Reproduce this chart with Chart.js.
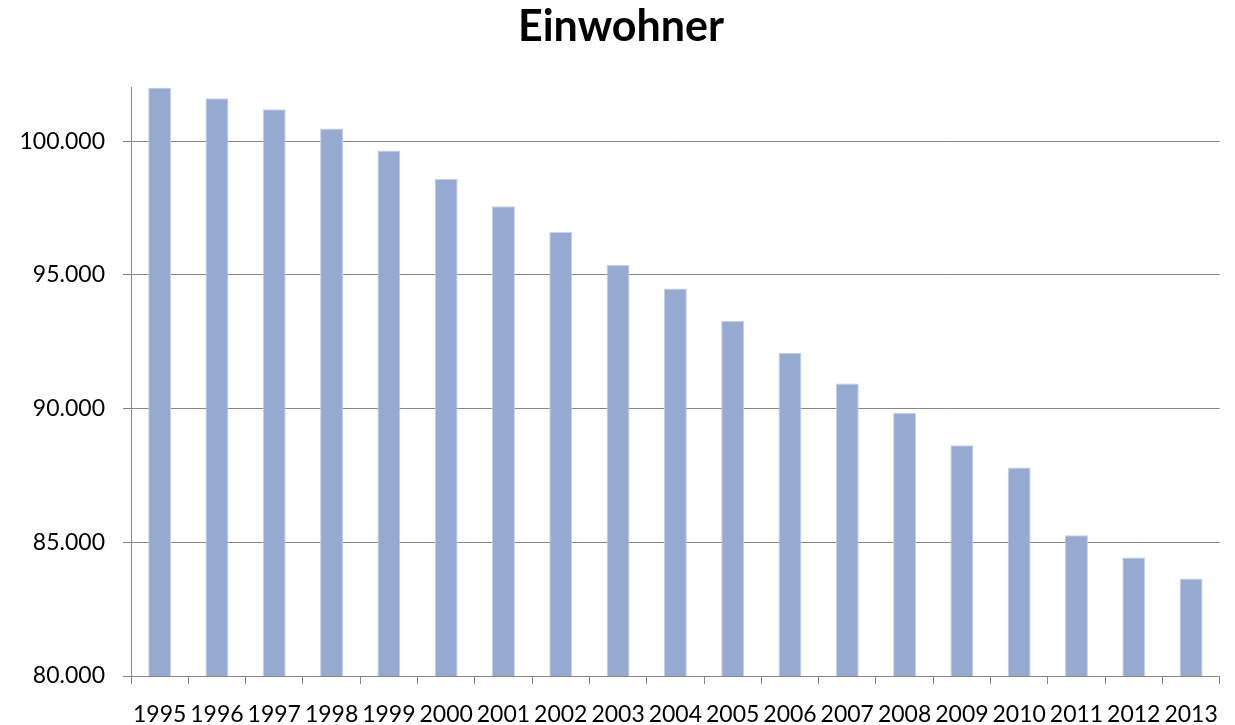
<!DOCTYPE html>
<html>
<head>
<meta charset="utf-8">
<script src="https://cdn.jsdelivr.net/npm/chart.js@4/dist/chart.umd.min.js"></script>
<style>
  html, body { margin: 0; padding: 0; background: #fff; }
  #wrap { width: 1235px; height: 725px; }
</style>
</head>
<body>
<div id="wrap"><canvas id="chart" width="1235" height="725"></canvas></div>
<script>
const years = [
  '1995', '1996', '1997', '1998', '1999', '2000', '2001', '2002', '2003', '2004',
  '2005', '2006', '2007', '2008', '2009', '2010', '2011', '2012', '2013',
];
const einwohner = [
  102000, 101600, 101190, 100475, 99650, 98580, 97560, 96600, 95365, 94490,
  93270, 92090, 90940, 89840, 88630, 87795, 85262, 84430, 83645,
];
const yTicks = [80000, 85000, 90000, 95000, 100000];
const yMin = 80000;
const yMax = 102000;

Chart.defaults.color = '#000';
Chart.defaults.font.family = 'Lato, "Open Sans", sans-serif';

// German style thousands separator: 100000 -> "100.000"
const fmt = (v) => String(Math.round(v)).replace(/\B(?=(\d{3})+(?!\d))/g, '.');

new Chart(document.getElementById('chart'), {
  type: 'bar',
  data: {
    labels: years,
    datasets: [
      {
        data: einwohner,
        backgroundColor: 'rgb(149, 169, 209)',
        borderColor: 'rgb(196, 208, 232)',
        borderWidth: 1,
        barPercentage: 0.4,
        categoryPercentage: 1,
      },
    ],
  },
  options: {
    responsive: false,
    animation: false,
    layout: {
      padding: { left: 16, right: 9, top: 0, bottom: 0 },
    },
    plugins: {
      legend: { display: false },
      tooltip: { enabled: false },
      title: {
        display: true,
        text: 'Einwohner',
        color: '#000',
        font: { size: 43, weight: 'bold' },
        padding: { top: 1, bottom: 35 },
      },
    },
    scales: {
      x: {
        grid: {
          offset: true,
          drawOnChartArea: false,
          drawTicks: true,
          tickLength: 8,
          color: '#878787',
        },
        border: { display: true, color: '#878787', width: 1 },
        ticks: {
          autoSkip: false,
          maxRotation: 0,
          minRotation: 0,
          padding: 17,
          font: { size: 23 },
        },
        afterFit(scale) {
          scale.height = 49;
        },
      },
      y: {
        min: yMin,
        max: yMax,
        grid: {
          color: '#878787',
          tickLength: 8,
        },
        border: { display: true, color: '#878787', width: 1 },
        ticks: {
          padding: 18,
          font: { size: 23 },
          callback(value) {
            return fmt(value);
          },
        },
        afterBuildTicks(scale) {
          scale.ticks = yTicks.map((value) => ({ value }));
        },
        afterFit(scale) {
          scale.width = 115;
        },
      },
    },
  },
});
</script>
</body>
</html>
